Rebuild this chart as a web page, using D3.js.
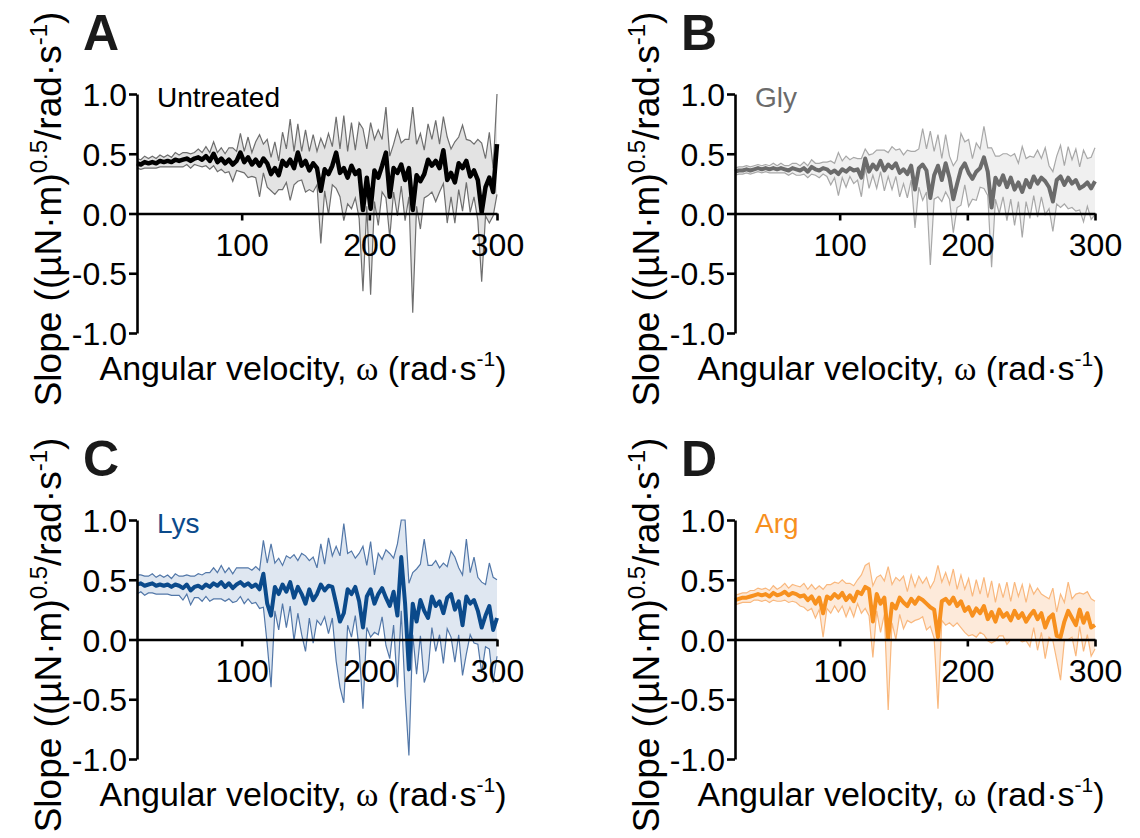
<!DOCTYPE html>
<html>
<head>
<meta charset="utf-8">
<script src="https://cdn.jsdelivr.net/npm/d3@7"></script>
<style>
body{margin:0;background:#fff}
text{font-family:"Liberation Sans",Arial,sans-serif}
</style>
</head>
<body>
<svg id="chart" width="1140" height="838"></svg>
<script>
// slope vs angular velocity, mean +/- error band, four treatments

// sampling grid (rad/s), every 3 rad/s from 18 to 300
var omega = d3.range(18, 301, 3);

var untreatedMean = [0.42,0.41,0.43,0.42,0.43,0.42,0.44,0.43, 0.44,0.43,0.45,0.44,0.45,0.46,0.44,0.46,
  0.47,0.45,0.48,0.44,0.50,0.43,0.46,0.42, 0.45,0.41,0.44,0.51,0.43,0.47,0.41,0.45,
  0.40,0.46,0.42,0.33,0.38,0.32,0.44,0.40, 0.45,0.38,0.51,0.40,0.44,0.36,0.42,0.38,
  0.19,0.37,0.33,0.40,0.51,0.34,0.38,0.30, 0.40,0.33,0.36,0.03,0.30,0.04,0.36,0.30,
  0.40,0.51,0.14,0.38,0.34,0.41,0.28,0.38, 0.03,0.32,0.27,0.33,0.45,0.40,0.44,0.38,
  0.53,0.28,0.34,0.26,0.42,0.38,0.44,0.31, 0.36,0.28,0.01,0.22,0.30,0.18,0.58];
var untreatedErr = [0.04,0.04,0.05,0.04,0.05,0.04,0.05,0.04, 0.05,0.04,0.06,0.05,0.06,0.05,0.06,0.05,
  0.07,0.06,0.08,0.07,0.10,0.08,0.09,0.08, 0.10,0.14,0.08,0.16,0.09,0.17,0.10,0.15,
  0.26,0.12,0.20,0.14,0.22,0.12,0.24,0.14, 0.34,0.14,0.24,0.12,0.26,0.16,0.24,0.14,
  0.44,0.18,0.34,0.16,0.30,0.20,0.44,0.22, 0.36,0.20,0.40,0.68,0.24,0.72,0.26,0.40,
  0.22,0.38,0.34,0.20,0.36,0.18,0.34,0.24, 0.86,0.26,0.40,0.20,0.30,0.22,0.34,0.20,
  0.28,0.36,0.20,0.34,0.22,0.36,0.18,0.30, 0.22,0.34,0.58,0.24,0.38,0.20,0.42];

var glyMean = [0.35,0.36,0.36,0.37,0.36,0.37,0.38,0.37, 0.38,0.37,0.38,0.37,0.38,0.37,0.36,0.38,
  0.37,0.36,0.38,0.35,0.39,0.37,0.36,0.38, 0.37,0.34,0.36,0.33,0.37,0.35,0.38,0.36,
  0.37,0.30,0.46,0.35,0.41,0.37,0.44,0.36, 0.41,0.38,0.42,0.34,0.37,0.33,0.40,0.20,
  0.38,0.41,0.36,0.13,0.32,0.40,0.28,0.42, 0.30,0.12,0.25,0.37,0.42,0.34,0.29,0.35,
  0.38,0.47,0.35,0.05,0.30,0.24,0.32,0.22, 0.30,0.20,0.26,0.18,0.28,0.22,0.31,0.25,
  0.30,0.27,0.22,0.10,0.28,0.31,0.24,0.30, 0.25,0.28,0.21,0.23,0.26,0.21,0.27];
var glyErr = [0.03,0.03,0.03,0.03,0.03,0.03,0.03,0.03, 0.03,0.03,0.04,0.03,0.04,0.03,0.04,0.04,
  0.05,0.04,0.05,0.05,0.06,0.05,0.06,0.05, 0.06,0.10,0.06,0.18,0.07,0.13,0.07,0.11,
  0.09,0.16,0.08,0.14,0.09,0.16,0.09,0.17, 0.10,0.18,0.11,0.20,0.12,0.20,0.12,0.32,
  0.16,0.30,0.18,0.56,0.20,0.26,0.18,0.24, 0.18,0.28,0.20,0.30,0.18,0.28,0.17,0.24,
  0.16,0.26,0.20,0.50,0.18,0.24,0.18,0.28, 0.18,0.30,0.16,0.38,0.18,0.26,0.16,0.28,
  0.16,0.28,0.18,0.25,0.20,0.26,0.16,0.26, 0.20,0.26,0.18,0.30,0.20,0.26,0.28];

var lysMean = [0.46,0.47,0.45,0.46,0.47,0.45,0.46,0.45, 0.46,0.44,0.46,0.45,0.43,0.46,0.41,0.44,
  0.45,0.43,0.46,0.44,0.47,0.45,0.48,0.44, 0.47,0.43,0.46,0.48,0.45,0.47,0.44,0.46,
  0.42,0.55,0.30,0.20,0.44,0.38,0.46,0.40, 0.48,0.35,0.44,0.38,0.30,0.42,0.33,0.38,
  0.46,0.41,0.45,0.44,0.30,0.15,0.22,0.42, 0.38,0.44,0.32,0.10,0.36,0.42,0.30,0.38,
  0.43,0.35,0.28,0.40,0.20,0.69,0.30,-0.25, 0.30,0.15,0.33,0.24,0.18,0.36,0.28,0.32,
  0.22,0.35,0.38,0.25,0.32,0.12,0.36,0.30, 0.33,0.24,0.10,0.20,0.28,0.08,0.18];
var lysErr = [0.08,0.07,0.08,0.07,0.08,0.07,0.08,0.07, 0.08,0.07,0.09,0.08,0.10,0.08,0.12,0.09,
  0.10,0.11,0.10,0.12,0.13,0.11,0.14,0.12, 0.13,0.12,0.14,0.12,0.15,0.13,0.14,0.15,
  0.16,0.28,0.34,0.60,0.20,0.30,0.16,0.30, 0.20,0.36,0.22,0.34,0.40,0.24,0.36,0.22,
  0.34,0.22,0.40,0.26,0.48,0.55,0.75,0.30, 0.36,0.24,0.40,0.68,0.26,0.40,0.24,0.34,
  0.24,0.40,0.44,0.28,0.60,0.45,0.75,0.72, 0.26,0.44,0.30,0.60,0.44,0.26,0.38,0.28,
  0.42,0.26,0.36,0.44,0.28,0.42,0.48,0.26, 0.36,0.28,0.38,0.26,0.36,0.44,0.32];

var argMean = [0.33,0.34,0.35,0.35,0.36,0.37,0.38,0.37, 0.38,0.36,0.39,0.37,0.38,0.40,0.37,0.39,
  0.38,0.36,0.37,0.33,0.36,0.30,0.35,0.22, 0.36,0.34,0.38,0.35,0.39,0.33,0.37,0.32,
  0.40,0.38,0.44,0.42,0.15,0.38,0.30,0.35, 0.01,0.30,0.26,0.35,0.31,0.28,0.34,0.30,
  0.35,0.33,0.30,0.27,0.25,0.02,0.32,0.34, 0.30,0.35,0.28,0.32,0.24,0.27,0.20,0.26,
  0.22,0.28,0.17,0.23,0.15,0.25,0.19,0.22, 0.16,0.24,0.18,0.22,0.15,0.20,0.24,0.17,
  0.22,0.10,0.18,0.21,0.03,0.02,0.15,0.24, 0.18,0.12,0.25,0.14,0.22,0.10,0.12];
var argErr = [0.04,0.04,0.04,0.04,0.05,0.04,0.05,0.05, 0.05,0.05,0.06,0.05,0.06,0.07,0.06,0.07,
  0.07,0.08,0.10,0.09,0.10,0.12,0.10,0.20, 0.10,0.12,0.10,0.12,0.11,0.14,0.10,0.13,
  0.10,0.16,0.18,0.22,0.30,0.14,0.24,0.14, 0.60,0.16,0.26,0.14,0.22,0.12,0.20,0.14,
  0.18,0.14,0.22,0.16,0.24,0.60,0.16,0.22, 0.16,0.24,0.14,0.22,0.18,0.24,0.16,0.24,
  0.16,0.24,0.18,0.26,0.16,0.22,0.16,0.26, 0.16,0.24,0.18,0.24,0.16,0.26,0.14,0.26,
  0.16,0.26,0.16,0.22,0.20,0.36,0.16,0.24, 0.16,0.26,0.14,0.24,0.18,0.24,0.20];

var xTicks = [100, 200, 300];
var yTicks = [-1, -0.5, 0, 0.5, 1];

var svg = d3.select("#chart");

var panels = [
  {letter:"A", name:"Untreated", mean:untreatedMean, err:untreatedErr, ox:0, oy:0,
   line:"#000000", edge:"#6e6e6e", fill:"#e3e3e3", label:"#000000", lw:4.5},
  {letter:"B", name:"Gly", mean:glyMean, err:glyErr, ox:598, oy:0,
   line:"#6b6b6b", edge:"#a8a8a8", fill:"#f0f0f0", label:"#6b6b6b", lw:4},
  {letter:"C", name:"Lys", mean:lysMean, err:lysErr, ox:0, oy:426,
   line:"#0b4a8b", edge:"#5277a8", fill:"#dfe7f1", label:"#0b4a8b", lw:4},
  {letter:"D", name:"Arg", mean:argMean, err:argErr, ox:598, oy:426,
   line:"#f7901e", edge:"#f9b87e", fill:"#fdeada", label:"#f7901e", lw:4}
];

function drawPanel(p){
  var g = svg.append("g").attr("transform","translate("+p.ox+","+p.oy+")");
  var x = d3.scaleLinear().domain([18,300]).range([137,497]);
  var y = d3.scaleLinear().domain([-1,1]).range([333,94]).clamp(true);

  var pts = omega.map(function(w,i){ return {w:w, m:p.mean[i], e:p.err[i]}; });

  g.append("path").datum(pts)
    .attr("d", d3.area().x(function(d){return x(d.w);})
      .y0(function(d){return y(d.m-d.e);})
      .y1(function(d){return y(d.m+d.e);}))
    .attr("fill", p.fill);

  [1,-1].forEach(function(s){
    g.append("path").datum(pts)
      .attr("d", d3.line().x(function(d){return x(d.w);}).y(function(d){return y(d.m+s*d.e);}))
      .attr("fill","none").attr("stroke",p.edge).attr("stroke-width",1.2);
  });

  g.append("path").datum(pts)
    .attr("d", d3.line().x(function(d){return x(d.w);}).y(function(d){return y(d.m);}))
    .attr("fill","none").attr("stroke",p.line).attr("stroke-width",p.lw)
    .attr("stroke-linejoin","round");

  // axes
  var yAxis = d3.axisLeft(y).tickValues(yTicks).tickSize(8).tickSizeOuter(0)
    .tickFormat(function(d){ return d.toFixed(1); });
  var ya = g.append("g").attr("transform","translate(137,0)").call(yAxis);
  ya.selectAll("text").attr("font-size",32).attr("fill","#000").attr("x",-10).attr("dy","0.36em")
    .style("font-family","'Liberation Sans',Arial,sans-serif");

  var xAxis = d3.axisBottom(x).tickValues(xTicks).tickSize(7).tickSizeOuter(0)
    .tickFormat(function(d){ return d; });
  var xa = g.append("g").attr("transform","translate(0,"+y(0)+")").call(xAxis);
  xa.selectAll("text").attr("font-size",32).attr("fill","#000").attr("y",42).attr("dy",0)
    .style("font-family","'Liberation Sans',Arial,sans-serif");

  g.selectAll(".domain, .tick line").attr("stroke","#000").attr("stroke-width",2.6);

  // labels
  g.append("text").attr("x",83).attr("y",50).attr("font-size",50).attr("font-weight","bold")
    .attr("fill","#1a1a1a").text(p.letter);
  g.append("text").attr("x",157).attr("y",107).attr("font-size",28).attr("fill",p.label).text(p.name);

  var yt = g.append("text").attr("transform","translate(61,209) rotate(-90)")
    .attr("text-anchor","middle").attr("font-size",37).attr("fill","#000");
  yt.append("tspan").text("Slope ((\u00b5N\u00b7m)");
  yt.append("tspan").attr("font-size",24).attr("dy",-14).text("0.5");
  yt.append("tspan").attr("dy",14).text("/rad\u00b7s");
  yt.append("tspan").attr("font-size",24).attr("dy",-14).text("-1");
  yt.append("tspan").attr("dy",14).text(")");

  var xt = g.append("text").attr("x",303).attr("y",380)
    .attr("text-anchor","middle").attr("font-size",34).attr("fill","#000");
  xt.append("tspan").text("Angular velocity, ");
  xt.append("tspan").style("font-family","'Liberation Serif',serif").text("\u03c9");
  xt.append("tspan").text(" (rad\u00b7s");
  xt.append("tspan").attr("font-size",21).attr("dy",-14).text("-1");
  xt.append("tspan").attr("dy",14).text(")");
}

panels.forEach(drawPanel);
</script>
</body>
</html>
